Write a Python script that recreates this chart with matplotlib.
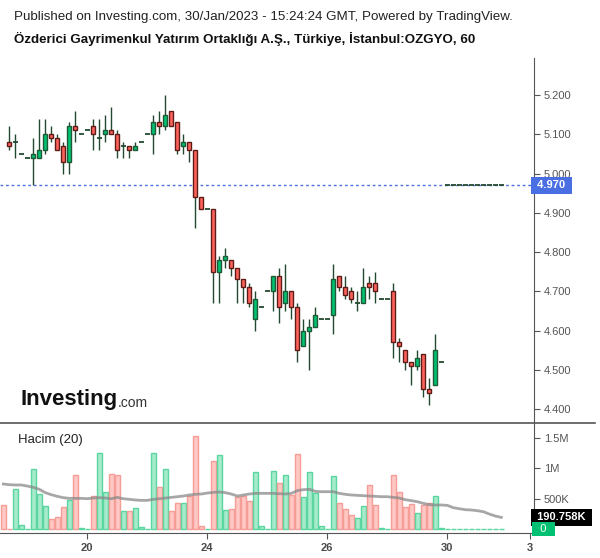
"""OZGYO hourly candles with volume panel (Investing.com / TradingView look)."""

import matplotlib

matplotlib.use("Agg")

import matplotlib.pyplot as plt  # noqa: E402
import numpy as np  # noqa: E402
from matplotlib.lines import Line2D  # noqa: E402
from matplotlib.transforms import blended_transform_factory  # noqa: E402

plt.rcParams["font.family"] = ["Liberation Sans", "DejaVu Sans"]

# hourly bars, x = bar number (10 bars a trading day)
opens = [5.08, 5.08, 5.05, 5.04, 5.04, 5.04, 5.06, 5.10, 5.09, 5.07,
         5.03, 5.12, 5.10, 5.11, 5.12, 5.09, 5.10, 5.11, 5.10, 5.07,
         5.07, 5.06, 5.08, 5.10, 5.10, 5.13, 5.12, 5.16, 5.13, 5.07,
         5.08, 5.06, 4.94, 4.91, 4.91, 4.75, 4.78, 4.78, 4.76, 4.73,
         4.71, 4.63, 4.66, 4.70, 4.70, 4.74, 4.67, 4.70, 4.66, 4.56,
         4.60, 4.61, 4.63, 4.63, 4.64, 4.74, 4.71, 4.70, 4.67, 4.67,
         4.72, 4.72, 4.68, 4.68, 4.70, 4.57, 4.55, 4.52, 4.51, 4.54,
         4.45, 4.46, 4.52,
         4.97, 4.97, 4.97, 4.97, 4.97, 4.97, 4.97, 4.97, 4.97, 4.97]
highs = [5.12, 5.10, 5.05, 5.04, 5.09, 5.14, 5.14, 5.12, 5.10, 5.08,
         5.13, 5.16, 5.10, 5.11, 5.14, 5.14, 5.15, 5.17, 5.11, 5.08,
         5.07, 5.08, 5.08, 5.10, 5.15, 5.16, 5.20, 5.16, 5.13, 5.10,
         5.08, 5.06, 4.94, 4.91, 4.91, 4.79, 4.81, 4.78, 4.76, 4.73,
         4.72, 4.70, 4.66, 4.70, 4.74, 4.76, 4.77, 4.70, 4.67, 4.63,
         4.63, 4.66, 4.63, 4.63, 4.77, 4.74, 4.74, 4.71, 4.70, 4.76,
         4.74, 4.75, 4.68, 4.68, 4.72, 4.58, 4.55, 4.52, 4.55, 4.54,
         4.48, 4.59, 4.52,
         4.97, 4.97, 4.97, 4.97, 4.97, 4.97, 4.97, 4.97, 4.97, 4.97]
lows = [5.06, 5.04, 5.05, 5.04, 4.97, 5.04, 5.05, 5.08, 5.06, 5.00,
        5.00, 5.08, 5.10, 5.11, 5.06, 5.06, 5.08, 5.10, 5.04, 5.04,
        5.04, 5.06, 5.08, 5.10, 5.05, 5.10, 5.11, 5.12, 5.05, 5.05,
        5.03, 4.86, 4.91, 4.91, 4.67, 4.67, 4.76, 4.74, 4.67, 4.67,
        4.66, 4.60, 4.66, 4.70, 4.65, 4.62, 4.65, 4.63, 4.52, 4.56,
        4.50, 4.61, 4.63, 4.63, 4.59, 4.70, 4.68, 4.67, 4.65, 4.67,
        4.68, 4.67, 4.68, 4.68, 4.53, 4.52, 4.50, 4.46, 4.50, 4.43,
        4.41, 4.46, 4.52,
        4.97, 4.97, 4.97, 4.97, 4.97, 4.97, 4.97, 4.97, 4.97, 4.97]
closes = [5.07, 5.08, 5.05, 5.04, 5.05, 5.06, 5.10, 5.09, 5.06, 5.03,
          5.12, 5.11, 5.10, 5.11, 5.10, 5.09, 5.11, 5.10, 5.06, 5.07,
          5.06, 5.07, 5.08, 5.10, 5.13, 5.12, 5.15, 5.12, 5.06, 5.08,
          5.06, 4.94, 4.91, 4.91, 4.75, 4.78, 4.79, 4.76, 4.73, 4.71,
          4.67, 4.68, 4.66, 4.70, 4.74, 4.66, 4.70, 4.66, 4.55, 4.60,
          4.61, 4.64, 4.63, 4.63, 4.73, 4.71, 4.69, 4.68, 4.67, 4.71,
          4.71, 4.70, 4.68, 4.68, 4.57, 4.56, 4.52, 4.51, 4.53, 4.45,
          4.44, 4.55, 4.52,
          4.97, 4.97, 4.97, 4.97, 4.97, 4.97, 4.97, 4.97, 4.97, 4.97]

# volume starts one bar earlier than the visible candles
vol_first_bar = -1
volume_k = [394, 0, 656, 66, 0, 984, 574, 377, 164, 197,
            361, 476, 886, 16, 0, 541, 1246, 607, 902, 886,
            295, 295, 344, 33, 0, 1246, 689, 984, 295, 426,
            426, 541, 1525, 49, 0, 1115, 1214, 312, 328, 525,
            541, 459, 935, 49, 0, 951, 754, 886, 558, 1230,
            520, 930, 585, 44, 0, 864, 426, 323, 224, 175,
            372, 717, 389, 16, 0, 881, 607, 356, 405, 257,
            389, 421, 536, 16, 0, 0, 0, 0, 0, 0,
            0, 0, 0, 0]
volume_ma_k = [738, 727, 722, 722, 705, 683, 651, 596, 563, 536,
               514, 503, 503, 503, 497, 508, 514, 508, 497, 519,
               497, 487, 476, 470, 470, 487, 497, 508, 519, 530,
               541, 558, 569, 574, 590, 601, 607, 596, 574, 541,
               558, 574, 585, 585, 585, 585, 579, 574, 585, 629,
               645, 651, 618, 612, 612, 612, 585, 569, 558, 552,
               547, 541, 536, 530, 530, 519, 508, 481, 465, 448,
               421, 399, 394, 394, 388, 350, 333, 317, 312, 301,
               284, 246, 213, 190.758]

last_price = 4.970
price_ticks = [4.4, 4.5, 4.6, 4.7, 4.8, 4.9, 5.0, 5.1, 5.2]
vol_ticks_k = [500, 1000, 1500]
vol_tick_labels = ["500K", "1M", "1.5M"]
x_tick_bars = [13, 33, 53, 73, 86.8]
x_tick_labels = ["20", "24", "26", "30", "3"]

UP, DOWN = "#00c073", "#ff625a"
UP_EDGE, DOWN_EDGE = "#1f5a34", "#5e1c19"
WICK = "#234a30"
AXIS = "#555555"

W, H = 600, 558
fig = plt.figure(figsize=(W / 100, H / 100), dpi=100)
ax_p = fig.add_axes([0, 1 - 423 / H, 534 / W, (423 - 58) / H])
ax_v = fig.add_axes([0, 1 - 533 / H, 534 / W, (533 - 423) / H], sharex=ax_p)

o, h, l, c = (np.array(a) for a in (opens, highs, lows, closes))
x = np.arange(len(o))
up = c >= o
flat = c == o
body = ~flat

# candles: wicks, bodies, and dashes for bars with open == close
ax_p.vlines(x, l, h, color=WICK, lw=1, zorder=2)
ax_p.bar(x[body], np.abs(c - o)[body], bottom=np.minimum(o, c)[body], width=0.62,
         color=np.where(up, UP, DOWN)[body],
         edgecolor=np.where(up, UP_EDGE, DOWN_EDGE)[body], lw=1, zorder=3)
ax_p.hlines(o[flat], x[flat] - 0.38, x[flat] + 0.38, color=WICK, lw=1.3, zorder=3)

ax_p.axhline(last_price, color="#4f6fe0", lw=1, ls=(0, (2, 2)), zorder=1)

ax_p.set_xlim((0 - 9.3) / 6, (534 - 9.3) / 6)
ax_p.set_ylim(4.4 - 14 / 392.5, 5.2 + 37 / 392.5)
ax_p.set_yticks(price_ticks)
ax_p.set_yticklabels([f"{v:.3f}" for v in price_ticks])
ax_p.yaxis.tick_right()
ax_p.tick_params(axis="y", direction="out", length=4, color=AXIS, labelcolor=AXIS,
                 labelsize=8, pad=3)
ax_p.tick_params(axis="x", bottom=False, labelbottom=False)
for side in ("left", "top", "bottom"):
    ax_p.spines[side].set_visible(False)
ax_p.spines["right"].set_color(AXIS)

tr = blended_transform_factory(ax_p.transAxes, ax_p.transData)
ax_p.text(1.0, last_price, f" {last_price:.3f} ", transform=tr, ha="left", va="center",
          color="white", fontsize=8, fontweight="bold", zorder=5, clip_on=False,
          bbox=dict(boxstyle="square,pad=0.3", fc="#4a6fe3", ec="none"))

# volume
vol = np.array(volume_k) * 1e3
vol_ma = np.array(volume_ma_k) * 1e3
vx = np.arange(len(vol)) + vol_first_bar
vol_up = np.r_[False, up]
ax_v.bar(vx, vol, width=0.9, color=np.where(vol_up, "#a6ebcb", "#ffc8c5"),
         edgecolor=np.where(vol_up, "#5cd6a0", "#f59d97"), lw=1, zorder=2)
ax_v.plot(vx, vol_ma, color="#8a8a8a", lw=2, alpha=0.75, zorder=3)

ax_v.set_ylim(-65e3, 1738e3)
ax_v.set_yticks([v * 1e3 for v in vol_ticks_k])
ax_v.set_yticklabels(vol_tick_labels)
ax_v.yaxis.tick_right()
ax_v.tick_params(axis="y", direction="out", length=4, color=AXIS, labelcolor=AXIS,
                 labelsize=8, pad=3)
ax_v.set_xticks(x_tick_bars)
ax_v.set_xticklabels(x_tick_labels, fontweight="bold")
ax_v.tick_params(axis="x", direction="out", length=4, color=AXIS, labelcolor="#4a4a4a",
                 labelsize=8, pad=3)
for side in ("left", "top"):
    ax_v.spines[side].set_visible(False)
for side in ("right", "bottom"):
    ax_v.spines[side].set_color(AXIS)

trv = blended_transform_factory(ax_v.transAxes, ax_v.transData)
ax_v.text(1.0, vol_ma[-1], f" {vol_ma[-1] / 1e3:.3f}K ", transform=trv, ha="left",
          va="center", color="white", fontsize=8, fontweight="bold", clip_on=False,
          bbox=dict(boxstyle="square,pad=0.3", fc="black", ec="none"))
ax_v.text(1.0, 0, "  0  ", transform=trv, ha="left", va="center", color="white",
          fontsize=8, clip_on=False,
          bbox=dict(boxstyle="square,pad=0.2", fc="#00c073", ec="none"))
ax_v.text(18 / 534, 1 - 17 / 110, "Hacim (20)", transform=ax_v.transAxes,
          fontsize=9.5, color="#222222", va="center")

fig.add_artist(Line2D([0, 595 / W], [1 - 423 / H] * 2, color=AXIS, lw=1.2))

# header and watermark
fig.text(14 / W, 1 - 17 / H,
         "Published on Investing.com, 30/Jan/2023 - 15:24:24 GMT, Powered by TradingView.",
         fontsize=9.6, color="#222222", va="center")
fig.text(14 / W, 1 - 39 / H,
         "Özderici Gayrimenkul Yatırım Ortaklığı A.Ş., Türkiye, İstanbul:OZGYO, 60",
         fontsize=9.6, fontweight="bold", color="#111111", va="center")
fig.text(20 / W, 1 - 400 / H, "Investing", fontsize=16, fontweight="bold",
         color="#111111", va="center")
fig.text(118 / W, 1 - 403 / H, ".com", fontsize=10, color="#333333", va="center")

fig.savefig("out.png", dpi=100)
